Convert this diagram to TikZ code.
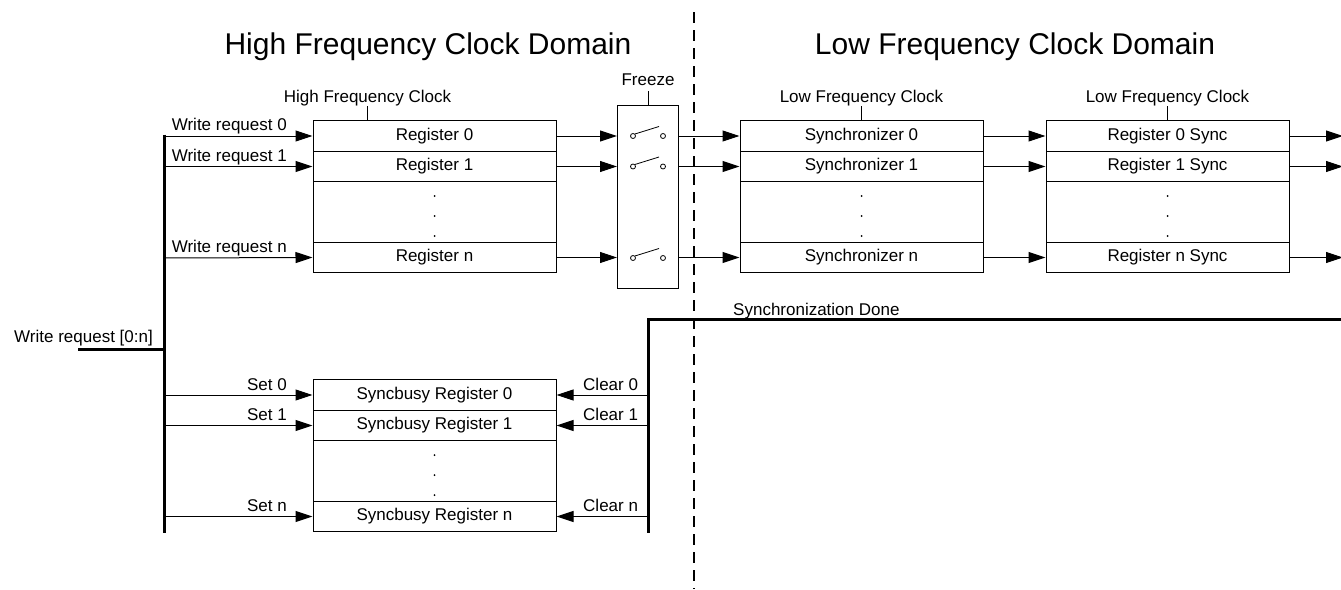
\documentclass[tikz,border=0pt]{standalone}
\usepackage{fontspec}
\setmainfont{Liberation Sans}
\usetikzlibrary{arrows.meta}
\newcommand\lblfont{\fontsize{17}{20}\selectfont}
\newcommand\titlefont{\fontsize{30}{34}\selectfont}
\begin{document}
\begin{tikzpicture}[x=1pt,y=-1pt,
  regbox/.style={draw, line width=1pt, minimum width=243pt, minimum height=30.5pt, inner sep=0pt, font=\lblfont, anchor=center},
  dotbox/.style={draw, line width=1pt, minimum width=243pt, minimum height=61pt, inner sep=0pt},
  arr/.style={line width=1pt, -{Triangle[length=17pt,width=11pt]}},
  thin/.style={line width=1pt},
  bus/.style={line width=3pt},
  lbl/.style={font=\lblfont, inner sep=0pt},
  ttl/.style={font=\titlefont, inner sep=0pt},
  swc/.style={circle, draw, line width=0.8pt, minimum size=5pt, inner sep=0pt}
]
\useasboundingbox (0,0) rectangle (1341,589);

% titles
\node[ttl, anchor=base] (t1) at (428,54) {High Frequency Clock Domain};
\node[ttl, anchor=base] (t2) at (1015,54) {Low Frequency Clock Domain};

% dashed divider
\coordinate (dtop) at (694,12);
\coordinate (dbot) at (694,589);
\draw[line width=1.3pt, dash pattern=on 11pt off 7pt] (dtop) -- (dbot);

% ---- High frequency registers
\node[regbox] (r0) at (434.5,136) {Register 0};
\node[regbox] (r1) at (434.5,166.5) {Register 1};
\node[dotbox] (rd) at (434.5,212) {};
\node[regbox] (rn) at (434.5,257.5) {Register n};
\foreach \yy in {196,216,236} \fill (434.5,\yy) circle (1pt);
\node[lbl, anchor=base] (hfc) at (367.5,102) {High Frequency Clock};
\draw[thin] (367.5,106) -- (367.5,121);

% ---- Freeze block
\node[draw, line width=1pt, minimum width=61pt, minimum height=183pt, inner sep=0pt] (fz) at (648,196.5) {};
\node[lbl, anchor=base] (fzl) at (648,85) {Freeze};
\draw[thin] (fz.north) -- ++(0,-14);
\foreach \yy/\nm in {136/s0,166.5/s1,258/sn}{
  \node[swc] (\nm a) at (633,\yy) {};
  \node[swc] (\nm b) at (663,\yy) {};
  \draw[line width=0.8pt] (\nm a.north east) -- (659,\yy-9.5);
}

% ---- Synchronizers
\node[regbox] (y0) at (861.5,136) {Synchronizer 0};
\node[regbox] (y1) at (861.5,166.5) {Synchronizer 1};
\node[dotbox] (yd) at (861.5,212) {};
\node[regbox] (yn) at (861.5,257.5) {Synchronizer n};
\foreach \yy in {196,216,236} \fill (861.5,\yy) circle (1pt);
\node[lbl, anchor=base] (lfc1) at (861.5,102) {Low Frequency Clock};
\draw[thin] (861.5,106) -- (861.5,121);

% ---- Register sync
\node[regbox] (z0) at (1167.5,136) {Register 0 Sync};
\node[regbox] (z1) at (1167.5,166.5) {Register 1 Sync};
\node[dotbox] (zd) at (1167.5,212) {};
\node[regbox] (zn) at (1167.5,257.5) {Register n Sync};
\foreach \yy in {196,216,236} \fill (1167.5,\yy) circle (1pt);
\node[lbl, anchor=base] (lfc2) at (1167.5,102) {Low Frequency Clock};
\draw[thin] (1167.5,106) -- (1167.5,121);

% ---- Write request bus
\coordinate (btop) at (164,134.5);
\coordinate (bbot) at (164,533);
\draw[bus] (btop) -- (bbot);
\coordinate (win) at (78,349);
\coordinate (wbus) at (164,349);
\draw[bus] (win) -- (wbus);
\node[lbl, anchor=base east] (wl) at (153,342) {Write request [0:n]};

\coordinate (w0) at (164,136);
\coordinate (w1) at (164,166.5);
\coordinate (wn) at (164,258);
\draw[arr] (w0) -- (r0.west);
\draw[arr] (w1) -- (r1.west);
\draw[arr] (wn) -- (rn.west);
\node[lbl, anchor=base east] at (287,130) {Write request 0};
\node[lbl, anchor=base east] at (287,161.5) {Write request 1};
\node[lbl, anchor=base east] at (287,252.5) {Write request n};

% register -> freeze -> sync -> reg sync -> out
\draw[arr] (r0.east) -- (fz.west |- r0.east);
\draw[arr] (r1.east) -- (fz.west |- r1.east);
\draw[arr] (rn.east) -- (fz.west |- rn.east);
\draw[arr] (fz.east |- y0.west) -- (y0.west);
\draw[arr] (fz.east |- y1.west) -- (y1.west);
\draw[arr] (fz.east |- yn.west) -- (yn.west);
\draw[arr] (y0.east) -- (z0.west);
\draw[arr] (y1.east) -- (z1.west);
\draw[arr] (yn.east) -- (zn.west);
\coordinate (o0) at (1343,136);
\coordinate (o1) at (1343,166.5);
\coordinate (on) at (1343,257.5);
\draw[arr] (z0.east) -- (o0);
\draw[arr] (z1.east) -- (o1);
\draw[arr] (zn.east) -- (on);

% ---- Syncbusy registers
\node[regbox] (b0) at (434.5,395) {Syncbusy Register 0};
\node[regbox] (b1) at (434.5,425.5) {Syncbusy Register 1};
\node[dotbox] (bd) at (434.5,471) {};
\node[regbox] (bn) at (434.5,516.5) {Syncbusy Register n};
\foreach \yy in {455,475,495} \fill (434.5,\yy) circle (1pt);

\coordinate (s0) at (164,395);
\coordinate (s1) at (164,425.5);
\coordinate (sn) at (164,516.5);
\draw[arr] (s0) -- (b0.west);
\draw[arr] (s1) -- (b1.west);
\draw[arr] (sn) -- (bn.west);
\node[lbl, anchor=base east] at (287,390) {Set 0};
\node[lbl, anchor=base east] at (287,420.5) {Set 1};
\node[lbl, anchor=base east] at (287,511.5) {Set n};

% ---- Synchronization done / clear
\coordinate (sdr) at (1341,319.5);
\coordinate (sdl) at (648,319.5);
\coordinate (cbot) at (648,533);
\draw[bus] (sdr) -- (sdl) -- (cbot);
\node[lbl, anchor=base west] at (733,315) {Synchronization Done};
\coordinate (c0) at (648,395);
\coordinate (c1) at (648,425.5);
\coordinate (cn) at (648,516.5);
\draw[arr] (c0) -- (b0.east);
\draw[arr] (c1) -- (b1.east);
\draw[arr] (cn) -- (bn.east);
\node[lbl, anchor=base west] at (583,390) {Clear 0};
\node[lbl, anchor=base west] at (583,420.5) {Clear 1};
\node[lbl, anchor=base west] at (583,511.5) {Clear n};
\end{tikzpicture}
\end{document}
